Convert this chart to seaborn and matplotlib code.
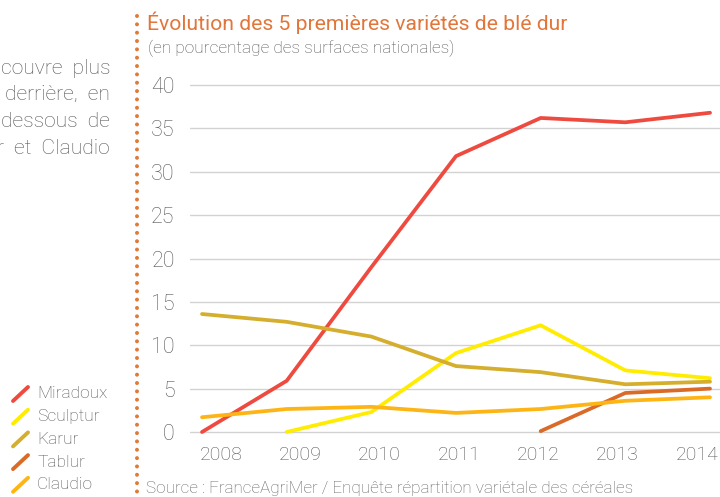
import numpy as np
import pandas as pd
import matplotlib
matplotlib.use("Agg")
import matplotlib.pyplot as plt
from matplotlib.lines import Line2D
import seaborn as sns

years = [2008, 2009, 2010, 2011, 2012, 2013, 2014]
miradoux = [0.0, 5.9, 19.0, 31.8, 36.2, 35.7, 36.8]
sculptur = [np.nan, 0.0, 2.3, 9.1, 12.3, 7.1, 6.2]
karur = [13.6, 12.7, 11.0, 7.6, 6.9, 5.5, 5.8]
tablur = [np.nan, np.nan, np.nan, np.nan, 0.1, 4.5, 5.0]
claudio = [1.7, 2.65, 2.9, 2.2, 2.65, 3.6, 4.0]

names = ["Miradoux", "Sculptur", "Karur", "Tablur", "Claudio"]
series = [miradoux, sculptur, karur, tablur, claudio]
colors = ["#EE4A3F", "#FFEC00", "#D4AE2C", "#DA6A28", "#FDB515"]
yticks = [0, 5, 10, 15, 20, 25, 30, 35, 40]

title = "Évolution des 5 premières variétés de blé dur"
subtitle = "(en pourcentage des surfaces nationales)"
source = "Source : FranceAgriMer / Enquête répartition variétale des céréales"
body_lines = ["couvre  plus", "derrière,  en", "dessous  de", "r  et  Claudio"]

rows = []
for n, s in zip(names, series):
    for y, v in zip(years, s):
        if not np.isnan(v):
            rows.append({"year": y, "value": v, "variety": n})
df = pd.DataFrame(rows)

sns.set_style("white")
plt.rcParams["font.family"] = ["Roboto", "DejaVu Sans"]
plt.rcParams["font.weight"] = "light"

W, H = 720, 497
fig = plt.figure(figsize=(W / 100, H / 100), dpi=100)

def fx(px):
    return px / W

def fy(py):
    return 1 - py / H

ax = fig.add_axes([fx(190), fy(440), fx(720) - fx(190), fy(80) - fy(440)])
sns.lineplot(data=df, x="year", y="value", hue="variety", hue_order=names,
             palette=dict(zip(names, colors)), estimator=None, sort=True,
             linewidth=2.7, legend=False, ax=ax, zorder=3)

ax.set_xlim(2008 - 12 / 84.67, 2008 + 518 / 84.67)
ax.set_ylim(-(440 - 432) / 8.675, 40 + (85 - 80) / 8.675)
for sp in ax.spines.values():
    sp.set_visible(False)
ax.set_yticks(yticks)
ax.set_yticklabels([str(v) for v in yticks])
ax.yaxis.grid(True, color="#d2d2d2", linewidth=1.0)
ax.xaxis.grid(False)
ax.set_axisbelow(True)
xt = np.linspace(2008.224, 2013.846, len(years))
ax.set_xticks(xt)
ax.set_xticklabels([str(y) for y in years])
ax.tick_params(axis="y", length=0, pad=11, labelsize=15.5, labelcolor="#555555")
ax.tick_params(axis="x", length=0, pad=4, labelsize=14, labelcolor="#555555")
ax.set_xlabel("")
ax.set_ylabel("")

# dotted vertical separator
fig.add_artist(Line2D([fx(137), fx(137)], [fy(16), fy(500)], color="#E07A37",
                      linewidth=2.9, linestyle=(0, (0.001, 2.07)),
                      dash_capstyle="round"))

fig.text(fx(147), fy(23), title, color="#E2763A", fontsize=15.2,
         ha="left", va="center", fontweight="normal")
fig.text(fx(148), fy(48), subtitle, color="#555555", fontsize=12.4,
         ha="left", va="center")
fig.text(fx(146), fy(489), source, color="#666666", fontsize=12.3,
         ha="left", va="center")

for i, line in enumerate(body_lines):
    fig.text(fx(110), fy(68 + i * 26.7), line, color="#555555", fontsize=15.2,
             ha="right", va="center")

for i, (n, c) in enumerate(zip(names, colors)):
    yc = 394 + i * 22.7
    fig.add_artist(Line2D([fx(13), fx(28)], [fy(yc + 7), fy(yc - 7)], color=c,
                          linewidth=2.8, solid_capstyle="round"))
    fig.text(fx(37), fy(yc), n, color="#555555", fontsize=12.5,
             ha="left", va="center")

fig.savefig("out.png", dpi=100)
